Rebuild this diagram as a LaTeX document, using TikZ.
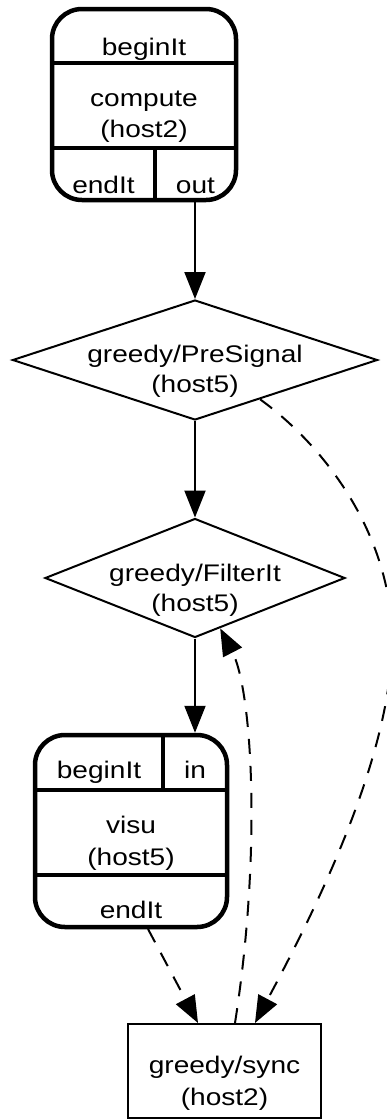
\documentclass[tikz,border=0pt]{standalone}
\usepackage{fontspec}
\setmainfont[FakeStretch=1.17]{Liberation Sans}
\usetikzlibrary{shapes.geometric,arrows.meta,calc}

\tikzset{
  lbl/.style={font=\fontsize{24}{30}\selectfont, inner sep=0pt, anchor=base},
  record/.style={draw, line width=4.5pt, rounded corners=30pt, inner sep=0pt},
  split/.style={line width=4.5pt},
  decision/.style={draw, diamond, line width=2pt, inner sep=0pt},
  task/.style={draw, rectangle, line width=2pt, inner sep=0pt},
  flow/.style={line width=2pt, -{Triangle[length=27pt,width=21pt]}},
  sync/.style={flow, dash pattern=on 15pt off 12pt},
}

\begin{document}
\begin{tikzpicture}[x=1pt, y=-1pt]
  \useasboundingbox (0,0) rectangle (387,1120);
  \clip (0,0) rectangle (387,1120);
  \fill[white] (0,0) rectangle (387,1120);

  % compute record
  \node[record, minimum width=184pt, minimum height=191pt] (compute) at (144,104.5) {};
  \draw[split] (52,63) -- (236,63);
  \draw[split] (52,148) -- (236,148);
  \draw[split] (155,148) -- (155,200);
  \node[lbl] (c-begin) at (144,55) {beginIt};
  \node[lbl] (c-name)  at (144,106) {compute};
  \node[lbl] (c-host)  at (144,137) {(host2)};
  \node[lbl] (c-end)   at (103.5,193) {endIt};
  \node[lbl] (c-out)   at (195.5,193) {out};

  % greedy/PreSignal
  \node[decision, minimum width=365pt, minimum height=120pt] (ps) at (195,360) {};
  \node[lbl] (ps-name) at (195,362) {greedy/PreSignal};
  \node[lbl] (ps-host) at (195,392) {(host5)};

  % greedy/FilterIt
  \node[decision, minimum width=300pt, minimum height=119pt] (fi) at (195,578) {};
  \node[lbl] (fi-name) at (195,581) {greedy/FilterIt};
  \node[lbl] (fi-host) at (195,611) {(host5)};

  % visu record
  \node[record, minimum width=192pt, minimum height=192pt] (visu) at (131,831) {};
  \draw[split] (35,790) -- (227,790);
  \draw[split] (35,875) -- (227,875);
  \draw[split] (163,735) -- (163,790);
  \node[lbl] (v-begin) at (99,778) {beginIt};
  \node[lbl] (v-in)    at (195,778) {in};
  \node[lbl] (v-name)  at (131,833) {visu};
  \node[lbl] (v-host)  at (131,865) {(host5)};
  \node[lbl] (v-end)   at (131,918) {endIt};

  % greedy/sync
  \node[task, minimum width=193pt, minimum height=94pt] (sync) at (224.5,1071) {};
  \node[lbl] (s-name) at (224.5,1073) {greedy/sync};
  \node[lbl] (s-host) at (224.5,1105) {(host2)};

  % ports
  \coordinate (p-out)  at (compute.south -| ps.north);
  \coordinate (p-in)   at (visu.north -| fi.south);
  \coordinate (p-end)  at (148,929);
  \coordinate (s-a)    at ($(sync.north)+(-26.5,0)$);
  \coordinate (s-b)    at ($(sync.north)+(10.5,0)$);
  \coordinate (s-c)    at ($(sync.north)+(30.5,0)$);
  \coordinate (fi-in)  at ($(fi.south)!0.167!(fi.east)$);
  \coordinate (ps-out) at ($(ps.south)!0.355!(ps.east)$);

  % control flow
  \draw[flow] (p-out) -- (ps.north);
  \draw[flow] (ps.south) -- (fi.north);
  \draw[flow] (fi.south) -- (p-in);

  % synchronisation edges
  \draw[sync] (p-end) -- (s-a);
  \draw[sync] (s-b) .. controls (262,850) and (252,690) .. (fi-in);
  \draw[sync] (ps-out) .. controls (330,450) and (392,540) .. (392,640)
              .. controls (392,760) and (310,920) .. (s-c);
\end{tikzpicture}
\end{document}
